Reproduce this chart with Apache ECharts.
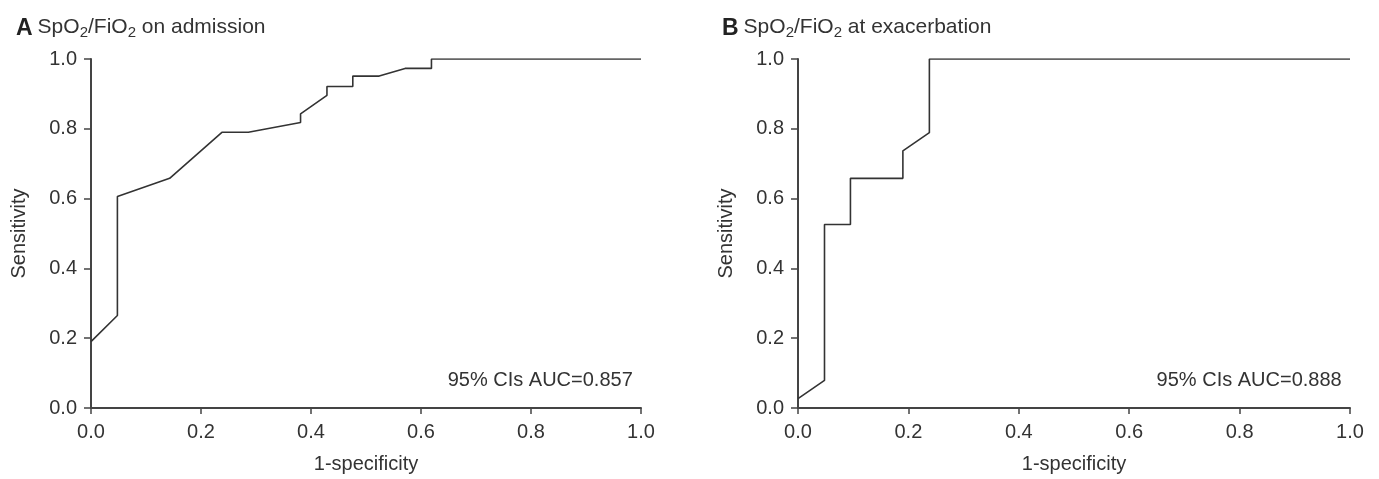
<!DOCTYPE html>
<html>
<head>
<meta charset="utf-8">
<script src="https://cdn.jsdelivr.net/npm/echarts@6/dist/echarts.min.js"></script>
<style>
html,body{margin:0;padding:0;background:#fff;}
#chart{width:1379px;height:479px;}
</style>
</head>
<body>
<div id="chart"></div>
<script>
// Panel A: SpO2/FiO2 on admission (1-specificity, sensitivity)
const fprA = [0, 0.048, 0.048, 0.143, 0.238, 0.286, 0.381, 0.381, 0.429, 0.429, 0.476, 0.476, 0.524, 0.571, 0.619, 0.619, 1.0];
const tprA = [0.19, 0.265, 0.606, 0.658, 0.79, 0.79, 0.818, 0.843, 0.896, 0.921, 0.921, 0.951, 0.951, 0.973, 0.973, 1.0, 1.0];
// Panel B: SpO2/FiO2 at exacerbation
const fprB = [0, 0.048, 0.048, 0.095, 0.095, 0.19, 0.19, 0.238, 0.238, 1.0];
const tprB = [0.027, 0.079, 0.526, 0.526, 0.658, 0.658, 0.737, 0.789, 1.0, 1.0];
const aucA = '95% CIs AUC=0.857';
const aucB = '95% CIs AUC=0.888';
const xTitle = '1-specificity';
const yTitle = 'Sensitivity';

const FONT = '"Liberation Sans", Arial, Helvetica, sans-serif';
const TXT = '#333';
const LINE = '#444';

function pairs(xs, ys){ return xs.map((x,i)=>[x, ys[i]]); }

const richTitle = {
  b: {fontSize: 23, fontWeight: 'bold', color: '#222', fontFamily: FONT, lineHeight: 26, padding: [0,0,10,0], verticalAlign: 'top'},
  t: {fontSize: 21, fontWeight: 'normal', color: TXT, fontFamily: FONT, lineHeight: 26, padding: [0,0,10,0], verticalAlign: 'top'},
  s: {fontSize: 15, fontWeight: 'normal', color: TXT, fontFamily: FONT, lineHeight: 15, padding: [8,0,0,0], verticalAlign: 'top'}
};

function axisX(idx){
  return {
    type: 'value', gridIndex: idx, min: 0, max: 1, interval: 0.2,
    name: xTitle, nameLocation: 'middle', nameGap: 46,
    nameTextStyle: {fontSize: 20, color: TXT, fontFamily: FONT},
    axisLine: {show: true, onZero: false, lineStyle: {color: LINE, width: 2}},
    axisTick: {show: true, length: 6, lineStyle: {color: LINE, width: 1.5}},
    axisLabel: {fontSize: 20, color: TXT, fontFamily: FONT, margin: 14, formatter: v => v.toFixed(1)},
    splitLine: {show: false}
  };
}
function axisY(idx){
  return {
    type: 'value', gridIndex: idx, min: 0, max: 1, interval: 0.2,
    name: yTitle, nameLocation: 'middle', nameGap: 62,
    nameTextStyle: {fontSize: 20, color: TXT, fontFamily: FONT},
    axisLine: {show: true, onZero: false, lineStyle: {color: LINE, width: 2}},
    axisTick: {show: true, length: 7, lineStyle: {color: LINE, width: 1.5}},
    axisLabel: {fontSize: 20, color: TXT, fontFamily: FONT, margin: 14, formatter: v => v.toFixed(1)},
    splitLine: {show: false}
  };
}

const chart = echarts.init(document.getElementById('chart'), null, {renderer: 'canvas'});
chart.setOption({
  animation: false,
  backgroundColor: '#fff',
  title: [
    {left: 11, top: 12, text: '{b|A} {t|SpO}{s|2}{t|/FiO}{s|2}{t| on admission}', textStyle: {fontWeight: 'normal', rich: richTitle}},
    {left: 717, top: 12, text: '{b|B} {t|SpO}{s|2}{t|/FiO}{s|2}{t| at exacerbation}', textStyle: {fontWeight: 'normal', rich: richTitle}}
  ],
  grid: [
    {left: 91, right: 738, top: 59, bottom: 68},
    {left: 798, right: 29, top: 59, bottom: 68}
  ],
  xAxis: [axisX(0), axisX(1)],
  yAxis: [axisY(0), axisY(1)],
  series: [
    {type: 'line', xAxisIndex: 0, yAxisIndex: 0, data: pairs(fprA, tprA), showSymbol: false, symbol: 'none',
     lineStyle: {color: '#333', width: 1.6}},
    {type: 'line', xAxisIndex: 1, yAxisIndex: 1, data: pairs(fprB, tprB), showSymbol: false, symbol: 'none',
     lineStyle: {color: '#333', width: 1.6}}
  ]
});

// AUC annotations placed relative to axes
const pA = chart.convertToPixel({gridIndex: 0}, [0.985, 0.08]);
const pB = chart.convertToPixel({gridIndex: 1}, [0.985, 0.08]);
chart.setOption({
  graphic: [
    {type: 'text', x: pA[0], y: pA[1], style: {text: aucA, fill: TXT, font: '20px ' + FONT, textAlign: 'right', textVerticalAlign: 'middle'}},
    {type: 'text', x: pB[0], y: pB[1], style: {text: aucB, fill: TXT, font: '20px ' + FONT, textAlign: 'right', textVerticalAlign: 'middle'}}
  ]
});
</script>
</body>
</html>
